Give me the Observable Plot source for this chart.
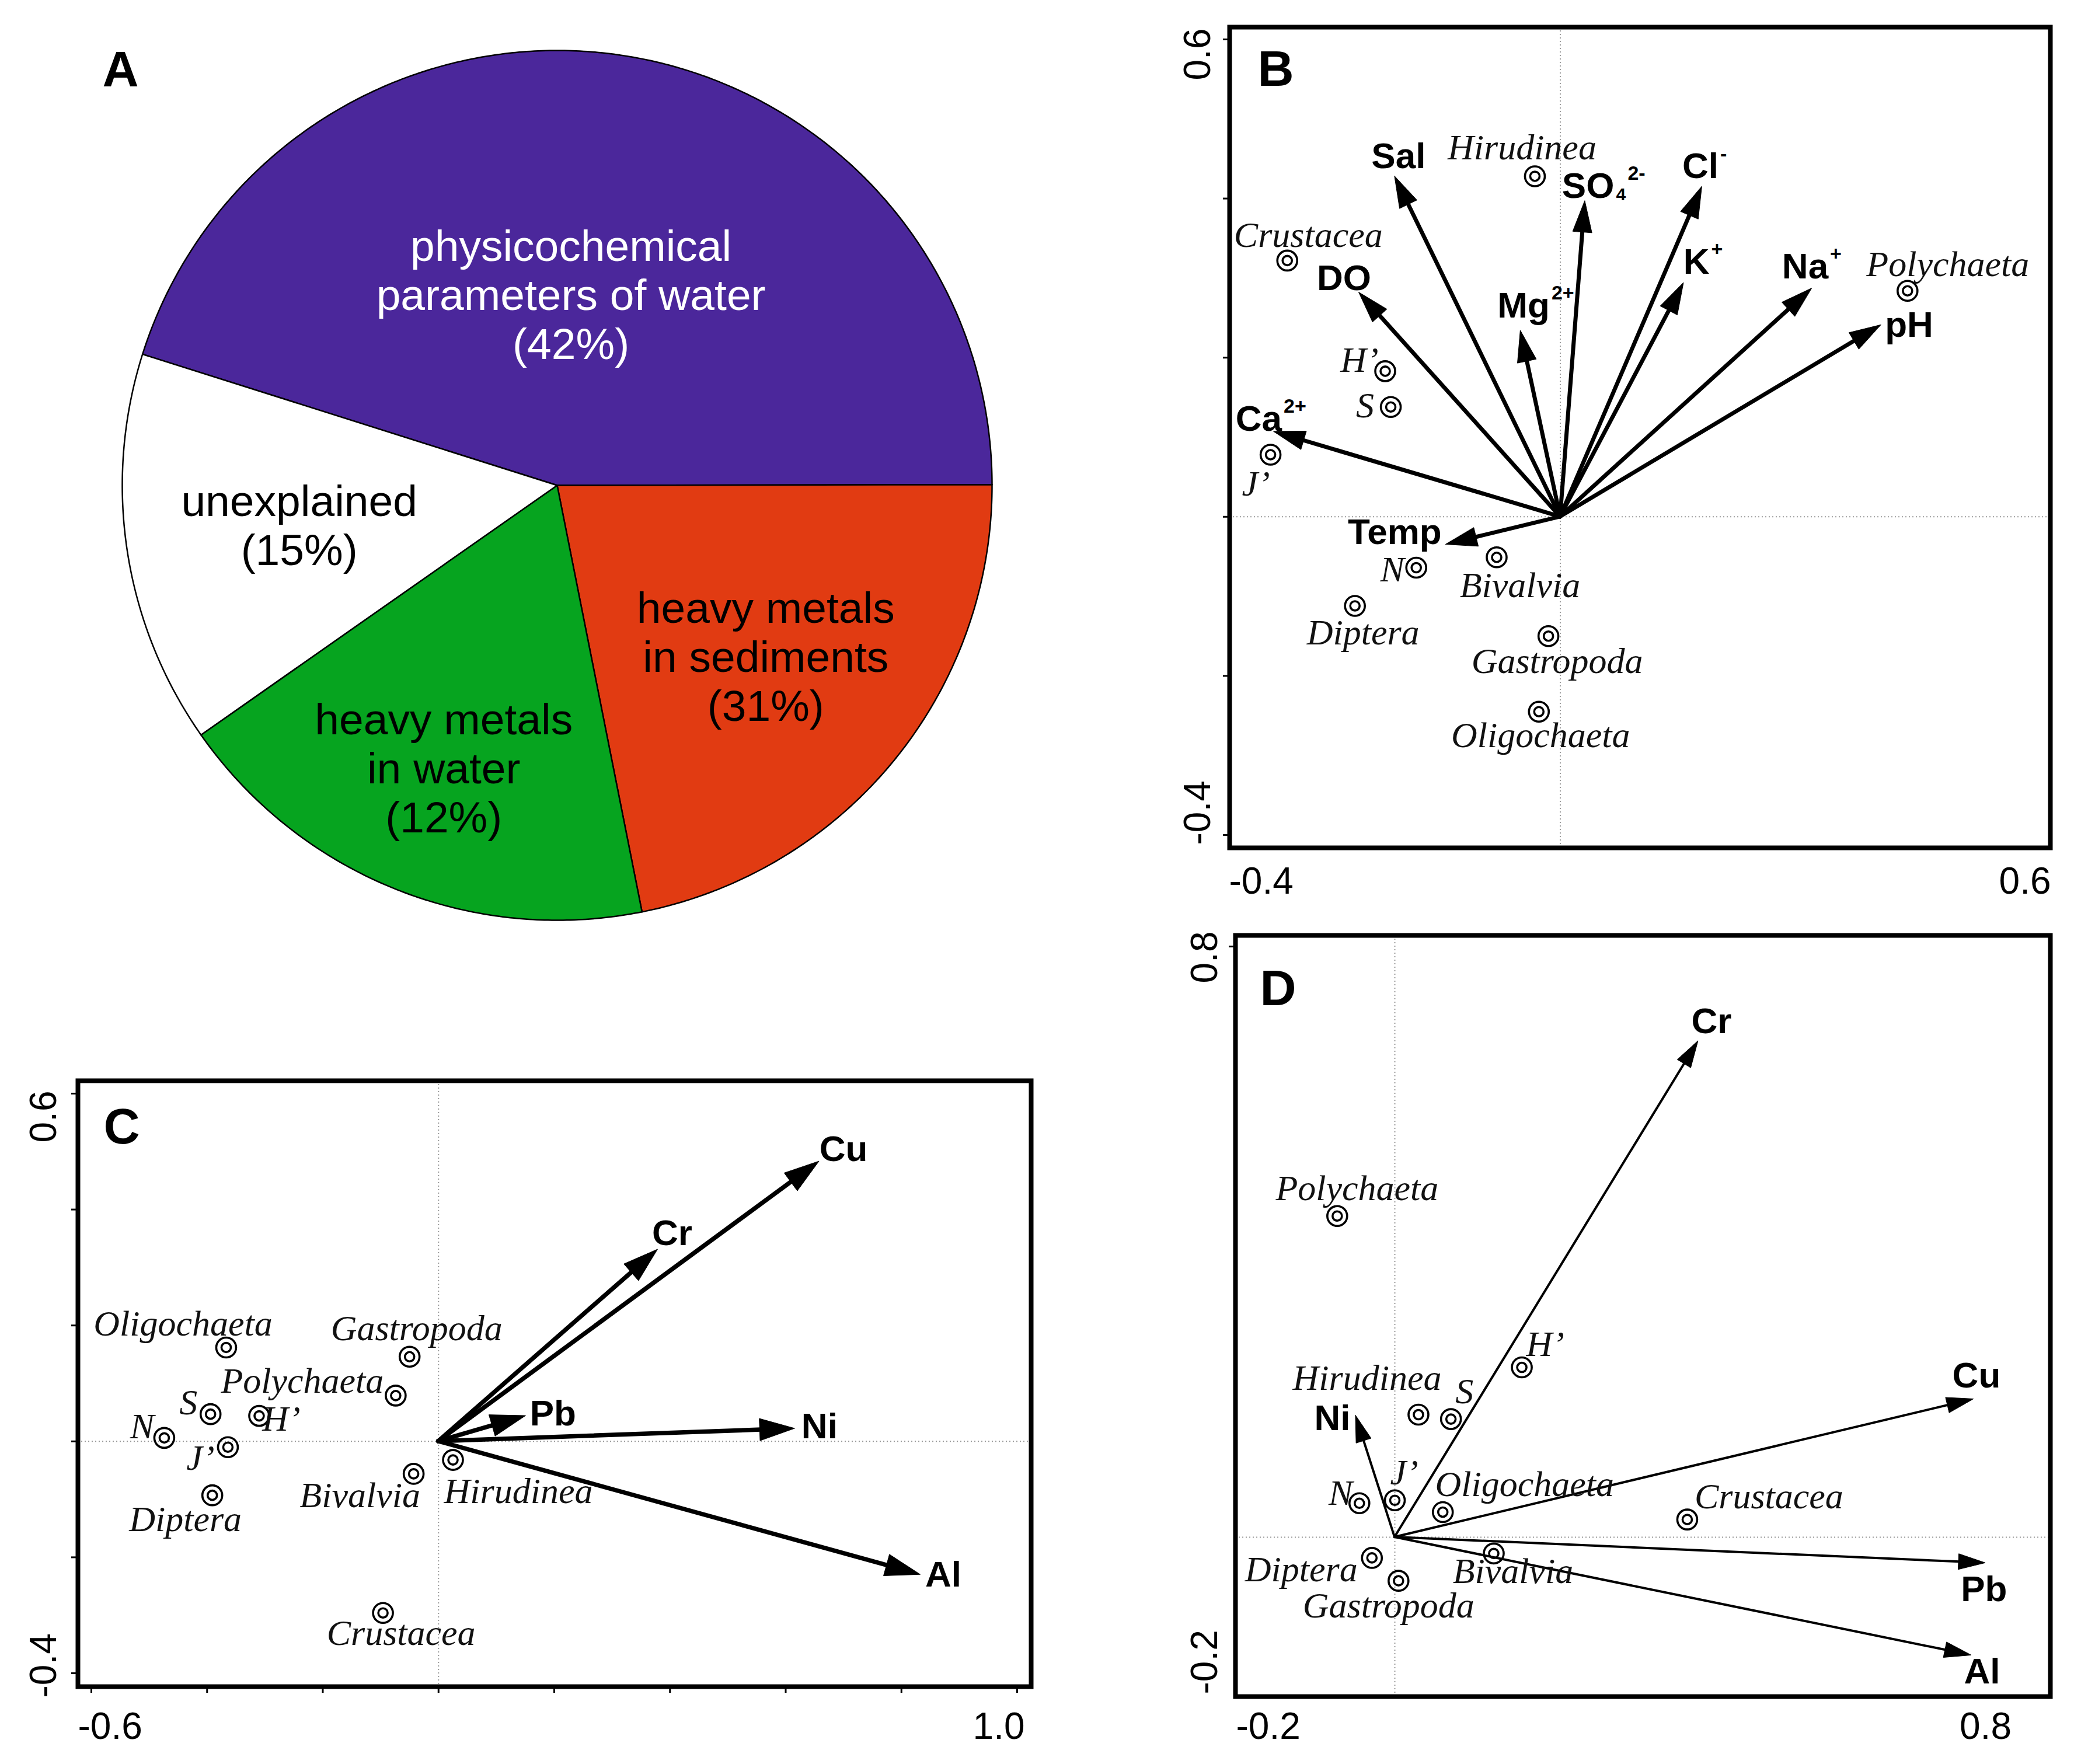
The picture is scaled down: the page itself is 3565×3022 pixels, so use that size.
<!DOCTYPE html>
<html><head><meta charset="utf-8">
<script src="https://cdn.jsdelivr.net/npm/d3@7"></script>
<script src="https://cdn.jsdelivr.net/npm/@observablehq/plot@0.6"></script>
<style>
body{margin:0;background:#fff;}
#page{position:relative;width:3565px;height:3022px;overflow:hidden;background:#fff;}
.panel{position:absolute;}
.panel svg{max-width:none;display:block;}
</style></head><body><div id="page"></div>
<script>
const SANS = "Liberation Sans, Arial, Helvetica, sans-serif";
const SERIF = "Liberation Serif, Times New Roman, serif";

// ---------- Panel A (pie) ----------
const sliceNames = ["physicochemical parameters of water", "heavy metals in sediments", "heavy metals in water", "unexplained"];
const sliceLabels = ["physicochemical\nparameters of water\n(42%)", "heavy metals\nin sediments\n(31%)", "heavy metals\nin water\n(12%)", "unexplained\n(15%)"];
const sliceShare = [45.1, 21.9, 18.4, 14.6]; // angular share as drawn in the picture
const sliceColors = ["#4b279b", "#e13b12", "#06a41f", "#ffffff"];
const sliceTextColors = ["white", "black", "black", "black"];
const sliceStartDeg = -72.45;
const sliceLabelRadius = [0.44, 0.62, 0.70, 0.60];
const sliceLabelTurnDeg = [-4.6, 0, 0, 0];

// ---------- Panel B ----------
const bEnvNames = ["Sal", "SO", "Cl", "K", "Na", "pH", "Mg", "DO", "Ca", "Temp"];
const bEnvSub = ["", "4", "", "", "", "", "", "", "", ""];
const bEnvSup = ["", "2-", "-", "+", "+", "", "2+", "", "2+", ""];
const bEnvX = [-0.208, 0.031, 0.178, 0.155, 0.316, 0.403, -0.050, -0.253, -0.360, -0.144];
const bEnvY = [0.428, 0.397, 0.415, 0.294, 0.287, 0.241, 0.234, 0.282, 0.107, -0.035];
const bSpecies = ["Hirudinea", "Crustacea", "Polychaeta", "H’", "S", "J’", "N", "Bivalvia", "Diptera", "Gastropoda", "Oligochaeta"];
const bSpX = [-0.032, -0.343, 0.436, -0.220, -0.213, -0.364, -0.181, -0.080, -0.258, -0.015, -0.027];
const bSpY = [0.428, 0.322, 0.284, 0.183, 0.138, 0.078, -0.064, -0.051, -0.112, -0.150, -0.245];
const bTickLabelsX = ["-0.4", "0.6"], bTickValuesX = [-0.4, 0.6];
const bTickLabelsY = ["-0.4", "0.6"], bTickValuesY = [-0.4, 0.6];
const bTickMarksY = [-0.4, -0.2, 0, 0.2, 0.4, 0.6];

// ---------- Panel C ----------
const cEnvNames = ["Cu", "Cr", "Pb", "Ni", "Al"];
const cEnvX = [0.658, 0.379, 0.151, 0.616, 0.833];
const cEnvY = [0.483, 0.331, 0.044, 0.022, -0.230];
const cSpecies = ["Oligochaeta", "Gastropoda", "Polychaeta", "S", "H’", "N", "J’", "Hirudinea", "Bivalvia", "Diptera", "Crustacea"];
const cSpX = [-0.367, -0.050, -0.074, -0.394, -0.310, -0.474, -0.364, 0.025, -0.043, -0.391, -0.096];
const cSpY = [0.162, 0.146, 0.079, 0.047, 0.044, 0.006, -0.010, -0.032, -0.056, -0.093, -0.296];
const cTickLabelsX = ["-0.6", "1.0"], cTickValuesX = [-0.6, 1.0];
const cTickLabelsY = ["-0.4", "0.6"], cTickValuesY = [-0.4, 0.6];
const cTickMarksX = [-0.6, -0.4, -0.2, 0, 0.2, 0.4, 0.6, 0.8, 1.0];
const cTickMarksY = [-0.4, -0.2, 0, 0.2, 0.4, 0.6];

// ---------- Panel D ----------
const dEnvNames = ["Cr", "Cu", "Pb", "Al", "Ni"];
const dEnvX = [0.411, 0.784, 0.800, 0.781, -0.053];
const dEnvY = [0.672, 0.187, -0.035, -0.160, 0.165];
const dSpecies = ["Polychaeta", "H’", "Hirudinea", "S", "J’", "N", "Oligochaeta", "Crustacea", "Diptera", "Gastropoda", "Bivalvia"];
const dSpX = [-0.078, 0.172, 0.032, 0.076, 0.000, -0.048, 0.065, 0.396, -0.031, 0.005, 0.134];
const dSpY = [0.435, 0.230, 0.166, 0.160, 0.050, 0.046, 0.034, 0.024, -0.028, -0.059, -0.022];
const dTickLabelsX = ["-0.2", "0.8"], dTickValuesX = [-0.2, 0.8];
const dTickLabelsY = ["-0.2", "0.8"], dTickValuesY = [-0.2, 0.8];
const dTickMarksY = [0.8];

// ---------- Layout (label offsets in pixels, sizes) ----------
const bEnvLabelDx = [53, 50, 28, 44, 28, 89, 50, 21, 14, -7];
const bEnvLabelDy = [-34, -25, -34, -35, -37, 0, -42, -24, -21, -21];
const bSupDx = [0, 20, 0, 0, 0, 0, 0, 0, 0, 0];
const bSpLabelDx = [-22, 36, 69, -44, -44, -25, -41, 40, 14, 15, 3];
const bSpLabelDy = [-49, -43, -45, -19, -2, 50, 4, 48, 46, 43, 41];
const cEnvLabelDx = [83, 59, 86, 73, 70];
const cEnvLabelDy = [-21, -27, -3, -3, 0];
const cSpLabelDx = [-74, 12, -160, -38, 38, -38, -47, 112, -92, -46, 31];
const cSpLabelDy = [-40, -48, -25, -19, 6, -19, 19, 54, 37, 42, 35];
const dEnvLabelDx = [57, 46, 37, 49, -9];
const dEnvLabelDy = [-33, -40, 45, 28, 5];
const dSpLabelDx = [34, 40, -88, 23, 16, -32, 140, 140, -121, -17, 33];
const dSpLabelDy = [-47, -39, -62, -47, -47, -17, -47, -39, 20, 43, 31];

const page = document.getElementById("page");
function place(svg, left, top, width) {
  const div = document.createElement("div");
  div.className = "panel";
  div.style.left = left + "px"; div.style.top = top + "px"; div.style.width = width + "px";
  div.appendChild(svg);
  page.appendChild(div);
}
const svgStyle = `font-family:${SANS};background:transparent;overflow:visible;`;

// ---------- Build panel A ----------
(function () {
  const a0 = sliceStartDeg * Math.PI / 180;
  const arcs = d3.pie().sort(null).value(d => d).startAngle(a0).endAngle(a0 + 2 * Math.PI)(sliceShare);
  const pts = [];
  arcs.forEach((a, i) => {
    const n = Math.max(2, Math.ceil((a.endAngle - a.startAngle) / (Math.PI / 360)));
    pts.push({slice: sliceNames[i], x: 0, y: 0});
    for (let k = 0; k <= n; k++) {
      const t = a.startAngle + (a.endAngle - a.startAngle) * k / n;
      pts.push({slice: sliceNames[i], x: Math.sin(t), y: Math.cos(t)});
    }
    pts.push({slice: sliceNames[i], x: 0, y: 0});
  });
  const labels = arcs.map((a, i) => {
    const m = (a.startAngle + a.endAngle) / 2 + sliceLabelTurnDeg[i] * Math.PI / 180, r = sliceLabelRadius[i];
    return {text: sliceLabels[i], color: sliceTextColors[i], x: r * Math.sin(m), y: r * Math.cos(m)};
  });
  const svg = Plot.plot({
    width: 1990, height: 1760, marginTop: 0, marginRight: 0, marginBottom: 0, marginLeft: 0,
    x: {domain: [-1, 1], range: [209, 1699], axis: null},
    y: {domain: [-1, 1], range: [1576, 86], axis: null},
    color: {domain: sliceNames, range: sliceColors},
    style: svgStyle,
    marks: [
      Plot.line(pts, {x: "x", y: "y", z: "slice", fill: "slice", stroke: "black", strokeWidth: 2.5, strokeLinejoin: "round"}),
      Plot.text(labels.filter(d => d.color === "white"), {x: "x", y: "y", text: "text", fill: "white", fontSize: 75, lineHeight: 1.12, fontFamily: SANS}),
      Plot.text(labels.filter(d => d.color !== "white"), {x: "x", y: "y", text: "text", fill: "black", fontSize: 75, lineHeight: 1.12, fontFamily: SANS}),
      Plot.text(["A"], {text: d => d, frameAnchor: "top-left", dx: 175, dy: 86, lineAnchor: "top", textAnchor: "start", fontSize: 86, fontWeight: "bold", fontFamily: SANS})
    ]
  });
  place(svg, 0, 0, 1990);
})();

// ---------- Biplot builder ----------
function biplot(p) {
  const kx = (p.xRange[1] - p.xRange[0]) / (p.xDomain[1] - p.xDomain[0]);
  const ky = (p.yRange[0] - p.yRange[1]) / (p.yDomain[1] - p.yDomain[0]);
  const env = p.envNames.map((name, i) => ({
    name,
    sup: p.envSup ? p.envSup[i] : "",
    sub: p.envSub ? p.envSub[i] : "",
    x: p.envX[i], y: p.envY[i],
    lx: p.envX[i] + p.envLabelDx[i] / kx,
    ly: p.envY[i] - p.envLabelDy[i] / ky,
    bx: p.envX[i] + (p.envLabelDx[i] + 3) / kx,
    sx: p.envX[i] + (p.envLabelDx[i] + 3 + (p.supDx ? p.supDx[i] : 0)) / kx
  }));
  const sp = p.species.map((name, i) => ({
    name, x: p.spX[i], y: p.spY[i],
    lx: p.spX[i] + p.spLabelDx[i] / kx,
    ly: p.spY[i] - p.spLabelDy[i] / ky
  }));
  const arrows = (index, scales) => {
    const g = d3.create("svg:g");
    const x0 = scales.x(0), y0 = scales.y(0);
    for (const d of env) {
      const x1 = scales.x(d.x), y1 = scales.y(d.y);
      const dx = x1 - x0, dy = y1 - y0, len = Math.hypot(dx, dy);
      const ux = dx / len, uy = dy / len;
      const L = Math.min(p.headLength, len * 0.9), W = p.headWidth / 2;
      const bx = x1 - ux * L, by = y1 - uy * L;
      g.append("line").attr("x1", x0).attr("y1", y0).attr("x2", bx + ux * 2).attr("y2", by + uy * 2)
        .attr("stroke", "black").attr("stroke-width", p.shaft).attr("stroke-linecap", "round");
      g.append("path").attr("d", `M${x1},${y1}L${bx - uy * W},${by + ux * W}L${bx + uy * W},${by - ux * W}Z`)
        .attr("fill", "black").attr("stroke", "black").attr("stroke-width", 1).attr("stroke-linejoin", "miter");
    }
    return g.node();
  };
  const grid = {stroke: "#9a9a9a", strokeWidth: 2, strokeDasharray: "2,4"};
  const marks = [
    Plot.ruleX([0], grid),
    Plot.ruleY([0], grid),
    arrows,
    Plot.dot(sp, {x: "x", y: "y", r: 17, stroke: "black", strokeWidth: 3.6, fill: "none"}),
    Plot.dot(sp, {x: "x", y: "y", r: 8, stroke: "black", strokeWidth: 3.6, fill: "none"}),
    Plot.text(sp, {x: "lx", y: "ly", text: "name", fontStyle: "italic", fontFamily: SERIF, fontSize: 62, fill: "#111"}),
    Plot.text(env, {x: "lx", y: "ly", text: "name", textAnchor: "end", lineAnchor: "middle", fontWeight: "bold", fontFamily: SANS, fontSize: 62, fill: "black"}),
    Plot.text(env.filter(d => d.sup), {x: "sx", y: "ly", text: "sup", textAnchor: "start", lineAnchor: "middle", dy: -22, fontWeight: "bold", fontFamily: SANS, fontSize: 34, fill: "black"}),
    Plot.text(env.filter(d => d.sub), {x: "bx", y: "ly", text: "sub", textAnchor: "start", lineAnchor: "middle", dy: 14, fontWeight: "bold", fontFamily: SANS, fontSize: 30, fill: "black"}),
    Plot.frame({stroke: "black", strokeWidth: 8}),
    Plot.text([p.letter], {text: d => d, frameAnchor: "top-left", dx: p.letterDx, dy: p.letterDy, lineAnchor: "top", textAnchor: "start", fontSize: 86, fontWeight: "bold", fontFamily: SANS})
  ];
  if (p.tickMarksX && p.tickMarksX.length) marks.push(Plot.axisX(p.tickMarksX, {anchor: "bottom", tickSize: 11, strokeWidth: 3, tickFormat: () => ""}));
  if (p.tickMarksY && p.tickMarksY.length) marks.push(Plot.axisY(p.tickMarksY, {anchor: "left", tickSize: 11, strokeWidth: 3, tickFormat: () => ""}));
  p.tickValuesX.forEach((v, i) => {
    marks.push(Plot.axisX([v], {anchor: "bottom", tickSize: 0, tickPadding: p.xLabelPad, textAnchor: p.xLabelAnchor[i], lineAnchor: "top", dx: p.xLabelDx[i], fontSize: 64, fontFamily: SANS, fill: "black", tickFormat: () => p.tickLabelsX[i]}));
  });
  p.tickValuesY.forEach((v, i) => {
    marks.push(Plot.axisY([v], {anchor: "left", tickSize: 0, tickPadding: p.yLabelPad, rotate: -90, textAnchor: p.yLabelAnchor[i], lineAnchor: "middle", dy: p.yLabelDy[i], fontSize: 64, fontFamily: SANS, fill: "black", tickFormat: () => p.tickLabelsY[i]}));
  });
  const svg = Plot.plot({
    width: p.width, height: p.height,
    marginTop: p.margins[0], marginRight: p.margins[1], marginBottom: p.margins[2], marginLeft: p.margins[3],
    x: {domain: p.xDomain, range: p.xRange, axis: null},
    y: {domain: p.yDomain, range: p.yRange, axis: null},
    style: svgStyle,
    marks
  });
  place(svg, p.left, p.top, p.width);
}

biplot({
  letter: "B", letterDx: 48, letterDy: 39,
  left: 1990, top: 0, width: 1575, height: 1560, margins: [46, 53, 108, 116],
  xDomain: [-0.4, 0.6], xRange: [137, 1501], yDomain: [-0.4, 0.6], yRange: [1430, 67],
  envNames: bEnvNames, envSup: bEnvSup, envSub: bEnvSub, envX: bEnvX, envY: bEnvY,
  envLabelDx: bEnvLabelDx, envLabelDy: bEnvLabelDy, supDx: bSupDx,
  species: bSpecies, spX: bSpX, spY: bSpY, spLabelDx: bSpLabelDx, spLabelDy: bSpLabelDy,
  shaft: 7, headLength: 54, headWidth: 33,
  tickMarksX: [], tickMarksY: bTickMarksY,
  tickValuesX: bTickValuesX, tickLabelsX: bTickLabelsX, xLabelAnchor: ["start", "end"], xLabelDx: [-22, 22], xLabelPad: 32.6,
  tickValuesY: bTickValuesY, tickLabelsY: bTickLabelsY, yLabelAnchor: ["start", "end"], yLabelDy: [17, -19], yLabelPad: 53.5
});

biplot({
  letter: "C", letterDx: 44, letterDy: 46,
  left: 0, top: 1760, width: 1850, height: 1262, margins: [91, 84, 133, 133],
  xDomain: [-0.6, 1.0], xRange: [156, 1742], yDomain: [-0.4, 0.6], yRange: [1106, 113],
  envNames: cEnvNames, envX: cEnvX, envY: cEnvY,
  envLabelDx: cEnvLabelDx, envLabelDy: cEnvLabelDy,
  species: cSpecies, spX: cSpX, spY: cSpY, spLabelDx: cSpLabelDx, spLabelDy: cSpLabelDy,
  shaft: 7.5, headLength: 60, headWidth: 38,
  tickMarksX: cTickMarksX, tickMarksY: cTickMarksY,
  tickValuesX: cTickValuesX, tickLabelsX: cTickLabelsX, xLabelAnchor: ["start", "end"], xLabelDx: [-23, 13], xLabelPad: 43.6,
  tickValuesY: cTickValuesY, tickLabelsY: cTickLabelsY, yLabelAnchor: ["start", "end"], yLabelDy: [42, -5], yLabelPad: 57.5
});

biplot({
  letter: "D", letterDx: 42, letterDy: 58,
  left: 1990, top: 1560, width: 1575, height: 1462, margins: [42, 53, 116, 126],
  xDomain: [-0.2, 0.8], xRange: [146, 1411], yDomain: [-0.2, 0.8], yRange: [1326, 61],
  envNames: dEnvNames, envX: dEnvX, envY: dEnvY,
  envLabelDx: dEnvLabelDx, envLabelDy: dEnvLabelDy,
  species: dSpecies, spX: dSpX, spY: dSpY, spLabelDx: dSpLabelDx, spLabelDy: dSpLabelDy,
  shaft: 4, headLength: 46, headWidth: 27,
  tickMarksX: [], tickMarksY: dTickMarksY,
  tickValuesX: dTickValuesX, tickLabelsX: dTickLabelsX, xLabelAnchor: ["start", "middle"], xLabelDx: [-19, 0], xLabelPad: 26.6,
  tickValuesY: dTickValuesY, tickLabelsY: dTickLabelsY, yLabelAnchor: ["start", "end"], yLabelDy: [16, -26], yLabelPad: 51.5
});
</script>
</body></html>
